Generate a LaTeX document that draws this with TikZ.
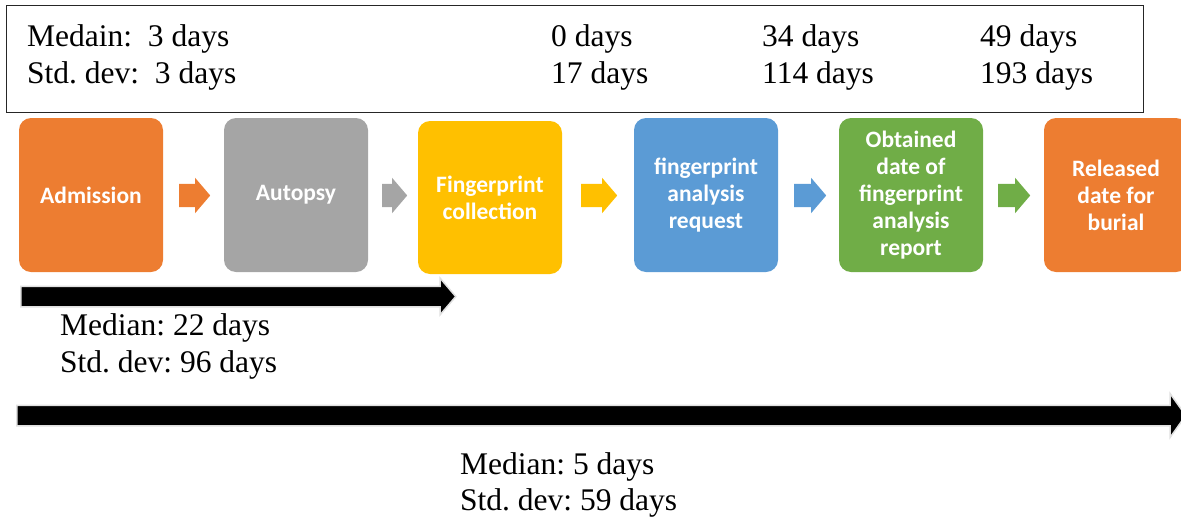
\documentclass[tikz,border=0pt]{standalone}
\usepackage{fontspec}
\setmainfont{Liberation Serif}
\newfontfamily\boxfont{Carlito}
\usetikzlibrary{shapes.arrows}
\definecolor{corange}{HTML}{ED7D31}
\definecolor{cgray}{HTML}{A5A5A5}
\definecolor{cyellow}{HTML}{FFC000}
\definecolor{cblue}{HTML}{5B9BD5}
\definecolor{cgreen}{HTML}{70AD47}
\frenchspacing
\begin{document}
\begin{tikzpicture}[x=1pt,y=-1pt,
  stepbox/.style={rectangle, rounded corners=12pt, minimum width=144pt, minimum height=154pt,
    inner sep=0pt, text=white, font=\boxfont\bfseries\fontsize{23.5}{27}\selectfont, align=center},
  smallarrow/.style={single arrow, single arrow head extend=6pt, single arrow tip angle=99,
    inner xsep=0pt, inner ysep=11.5pt, anchor=tail},
  bigarrow/.style={single arrow, fill=black, draw=black!12, line width=1.5pt, inner xsep=0pt, inner ysep=9.5pt, anchor=tail},
  lbl/.style={font=\fontsize{31.5}{37}\selectfont, anchor=base west, inner sep=0pt}]
\useasboundingbox (0,0) rectangle (1181,517);
% top box
\node (topbox) [draw=black!85, line width=1pt, minimum width=1137pt, minimum height=107pt, inner sep=0pt] at (574.5,58.5) {};
\node (t1a) [lbl] at (27,46) {Medain:\ \ 3 days};
\node (t1b) [lbl] at (27,83) {Std. dev:\ \ 3 days};
\node (t2a) [lbl] at (551,46) {0 days};
\node (t2b) [lbl] at (551,83) {17 days};
\node (t3a) [lbl] at (762,46) {34 days};
\node (t3b) [lbl] at (762,83) {114 days};
\node (t4a) [lbl] at (980,46) {49 days};
\node (t4b) [lbl] at (980,83) {193 days};
% step boxes
\node (adm) [stepbox, fill=corange] at (91,195) {Admission};
\node (aut) [stepbox, fill=cgray] at (296,195) {Autopsy};
\node (fpc) [stepbox, fill=cyellow, minimum height=153pt] at (490,197.5) {Fingerprint\\collection};
\node (far) [stepbox, fill=cblue] at (706,195) {fingerprint\\analysis\\request};
\node (obt) [stepbox, fill=cgreen] at (911,195) {Obtained\\date of\\fingerprint\\analysis\\report};
\node (rel) [stepbox, fill=corange] at (1116,195) {Released\\date for\\burial};
% small arrows
\node (a1) [smallarrow, fill=corange, minimum height=31pt] at (179,195.5) {};
\node (a2) [smallarrow, fill=cgray, minimum height=25pt] at (382,195.5) {};
\node (a3) [smallarrow, fill=cyellow, minimum height=36pt] at (581,195.5) {};
\node (a4) [smallarrow, fill=cblue, minimum height=32pt] at (794,195.5) {};
\node (a5) [smallarrow, fill=cgreen, minimum height=32pt] at (998,195.5) {};
% big arrows
\node (b1) [bigarrow, minimum height=435pt, single arrow head extend=8pt, single arrow tip angle=99] at (20,296.5) {};
\node (m1a) [lbl] at (60,335) {Median: 22 days};
\node (m1b) [lbl] at (60,372) {Std. dev: 96 days};
\node (b2) [bigarrow, minimum height=1169pt, single arrow head extend=11.5pt, single arrow tip angle=109] at (16,415.5) {};
\node (m2a) [lbl] at (460,474) {Median: 5 days};
\node (m2b) [lbl] at (460,510) {Std. dev: 59 days};
\end{tikzpicture}
\end{document}
